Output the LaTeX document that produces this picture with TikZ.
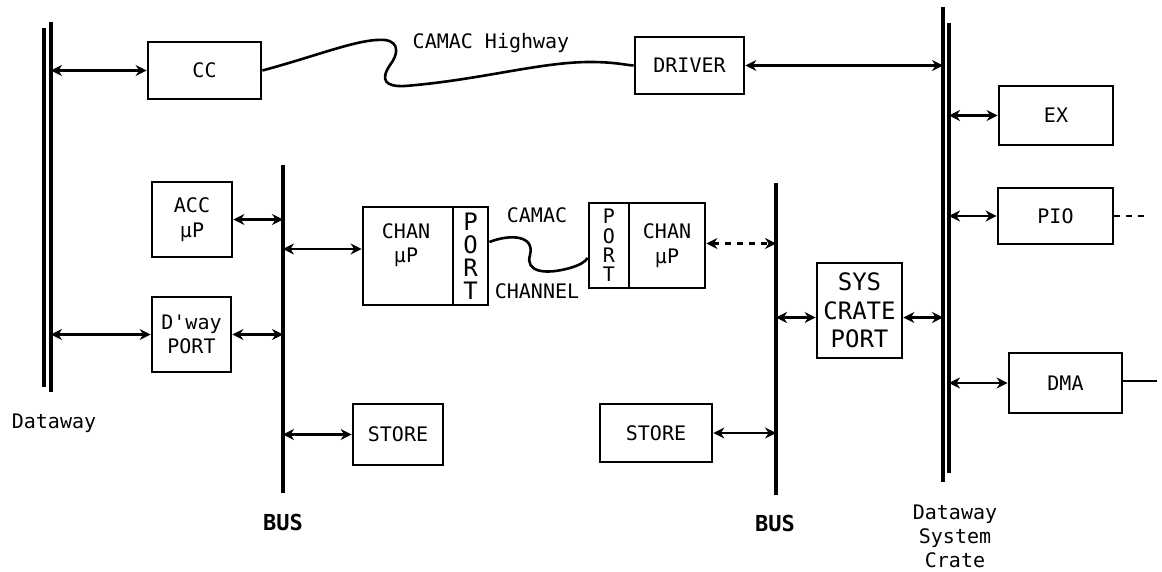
\documentclass[tikz,border=0pt]{standalone}
\usepackage{fontspec}
\setmainfont{DejaVu Sans Mono}
\usetikzlibrary{arrows.meta}
\begin{document}
\begin{tikzpicture}[x=0.5pt,y=-0.5pt,
  txt/.style={inner sep=0, align=center, font=\fontsize{10}{12.3}\selectfont},
  blk/.style={draw, line width=1.4pt, inner sep=0, align=center, font=\fontsize{10}{12.3}\selectfont},
  link/.style={line width=1.3pt, {Stealth[length=5.5pt,width=5.5pt]}-{Stealth[length=5.5pt,width=5.5pt]}},
  busline/.style={line width=1.8pt},
  wire/.style={line width=1.3pt}]
\useasboundingbox (0,0) rectangle (1162,572);

% bus lines
\coordinate (dwA1) at (44,28);  \coordinate (dwA2) at (44,387);
\coordinate (dwB1) at (51,22);  \coordinate (dwB2) at (51,392);
\coordinate (busL1) at (283,165); \coordinate (busL2) at (283,493);
\coordinate (busR1) at (776,183); \coordinate (busR2) at (776,495);
\coordinate (crA1) at (943,7);  \coordinate (crA2) at (943,482);
\coordinate (crB1) at (949,23); \coordinate (crB2) at (949,473);
\draw[busline] (dwA1) -- (dwA2);
\draw[busline] (dwB1) -- (dwB2);
\draw[busline] (busL1) -- (busL2);
\draw[busline] (busR1) -- (busR2);
\draw[busline] (crA1) -- (crA2);
\draw[busline] (crB1) -- (crB2);

% boxes
\node[blk, minimum width=56.5pt, minimum height=28.5pt] (cc) at (204.5,70.5) {CC};
\node[blk, minimum width=54.5pt, minimum height=28.5pt] (drv) at (689.5,65.5) {DRIVER};
\node[blk, minimum width=57pt, minimum height=29.5pt] (ex) at (1056,115.5) {EX};
\node[blk, minimum width=57.5pt, minimum height=28pt] (pio) at (1055.5,216) {PIO};
\node[blk, minimum width=56.5pt, minimum height=30pt] (dma) at (1065.5,383) {DMA};
\node[blk, minimum width=40pt, minimum height=37.5pt] (acc) at (192,219.5) {ACC\\μP};
\node[blk, minimum width=39.5pt, minimum height=37.5pt] (dport) at (191.5,334.5) {D\textquotesingle way\\PORT};
\node[blk, minimum width=45pt, minimum height=30.5pt] (storeL) at (398,434.5) {STORE};
\node[blk, minimum width=45pt, minimum height=49pt] (chanL) at (408,256) {};
\node[txt] (chanLt) at (406,245) {CHAN\\μP};
\node[blk, minimum width=17.5pt, minimum height=49pt, font=\fontsize{12}{11.5}\selectfont] (portL) at (470.5,256) {P\\O\\R\\T};
\node[blk, minimum width=20pt, minimum height=42.5pt, font=\fontsize{10}{9.6}\selectfont] (portR) at (609,245.5) {P\\O\\R\\T};
\node[blk, minimum width=38pt, minimum height=42.5pt] (chanR) at (667,245.5) {CHAN\\μP};
\node[blk, minimum width=42.5pt, minimum height=47.5pt, font=\fontsize{12}{14.2}\selectfont] (sys) at (859.5,310.5) {SYS\\CRATE\\PORT};
\node[blk, minimum width=56pt, minimum height=29pt] (storeR) at (656,433) {STORE};

% labels
\node[txt] (lhw) at (491,43) {CAMAC Highway};
\node[txt] (lcamac) at (537,215) {CAMAC};
\node[txt] (lchannel) at (537,291) {CHANNEL};
\node[txt] (ldw) at (54,423) {Dataway};
\node[txt, font=\fontsize{11}{12}\bfseries] (lbusL) at (283,522) {BUS};
\node[txt, font=\fontsize{11}{12}\bfseries] (lbusR) at (775,523) {BUS};
\node[txt, font=\fontsize{10}{12}\selectfont] (ldsc) at (955,536) {Dataway\\System\\Crate};

% connectors
\draw[link] (dwB1 |- cc.west) -- (cc.west);
\draw[link] (drv.east) -- (drv.east -| crA1);
\draw[link] (crB1 |- ex.west) -- (ex.west);
\draw[link] (crB1 |- pio.west) -- (pio.west);
\draw[link] (crB1 |- dma.west) -- (dma.west);
\draw[link] (acc.east) -- (acc.east -| busL1);
\draw[link] (dwB1 |- dport.west) -- (dport.west);
\draw[link] (dport.east) -- (dport.east -| busL1);
\draw[link] (busL1 |- storeL.west) -- (storeL.west);
\draw[link] ([yshift=3.5pt]busL1 |- chanL.west) -- ([yshift=3.5pt]chanL.west);
\draw[link, dashed] ([yshift=1pt]chanR.east) -- ([yshift=1pt]chanR.east -| busR1);
\draw[link] ([yshift=-3.5pt]busR1 |- sys.west) -- ([yshift=-3.5pt]sys.west);
\draw[link] ([yshift=-3.5pt]sys.east) -- ([yshift=-3.5pt]sys.east -| crA1);
\draw[link] (storeR.east) -- (storeR.east -| busR1);

\coordinate (pioEnd) at (1150,216);
\coordinate (dmaEnd) at (1157,381);
\draw[wire, dashed] (pio.east) -- (pioEnd);
\draw[wire] (dma.east |- dmaEnd) -- (dmaEnd);

% CAMAC highway cable
\draw[wire] (cc.east) .. controls (320,55) and (360,38) .. (385,40)
  .. controls (400,42) and (398,55) .. (390,65)
  .. controls (380,80) and (385,87) .. (405,86)
  .. controls (480,80) and (540,62) .. (590,62)
  .. controls (615,62) and (625,65) .. (drv.west);

% CAMAC channel cable
\draw[wire] (portL.east |- 0,242) .. controls (510,234) and (535,235) .. (530,255)
  .. controls (525,272) and (545,275) .. (570,268)
  .. controls (580,265) and (585,262) .. (portR.west |- 0,258);
\end{tikzpicture}
\end{document}
